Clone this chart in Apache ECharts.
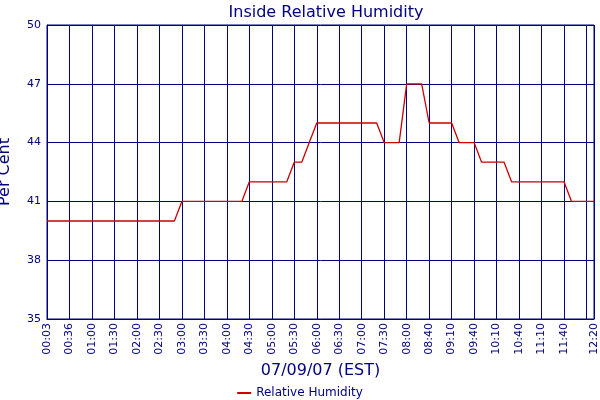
<!DOCTYPE html>
<html><head><meta charset="utf-8">
<script src="https://cdn.jsdelivr.net/npm/echarts@6/dist/echarts.min.js"></script>
<style>html,body{margin:0;padding:0;background:#fff}#c{width:600px;height:400px}</style>
</head><body><div id="c"></div>
<script>
var tickLabels = ['00:03','00:36','01:00','01:30','02:00','02:30','03:00','03:30','04:00','04:30','05:00','05:30','06:00','06:30','07:00','07:30','08:00','08:40','09:10','09:40','10:10','10:40','11:10','11:40','12:10','12:20'];
var humidity = [
40,40,40,40,40,40,40,40,40,40,40,40,40,40,40,40,40,40,
41,41,41,41,41,41,41,41,41,
42,42,42,42,42,42,
43,43,44,
45,45,45,45,45,45,45,45,45,
44,44,44,
47,47,47,
45,45,45,45,
44,44,44,
43,43,43,43,
42,42,42,42,42,42,42,42,
41,41,41,41];
var n = humidity.length;
var cats = [], labelAt = {};
for (var i = 0; i < n; i++) { cats.push('p' + i); }
for (var k = 0; k < tickLabels.length - 1; k++) labelAt[k * 3] = tickLabels[k];
labelAt[n - 1] = tickLabels[tickLabels.length - 1];
function isTick(idx) { return labelAt[idx] !== undefined; }
var navy = '#000080';
var font = 'DejaVu Sans, Verdana, sans-serif';
var chart = echarts.init(document.getElementById('c'));
chart.setOption({
  animation: false,
  title: { text: 'Inside Relative Humidity', left: 321, textAlign: 'center', top: 0,
    textStyle: { color: navy, fontSize: 16, fontWeight: 'normal', fontFamily: font } },
  legend: { top: 382, left: 'center', itemWidth: 14, itemHeight: 2, icon: 'rect',
    textStyle: { color: navy, fontSize: 12, fontFamily: font }, data: ['Relative Humidity'] },
  grid: { left: 47, right: 6, top: 25, bottom: 81, containLabel: false, outerBoundsMode: 'none',
    show: true, borderColor: navy, borderWidth: 1 },
  xAxis: {
    type: 'category', data: cats, boundaryGap: false,
    name: '07/09/07 (EST)', nameLocation: 'middle', nameGap: 42,
    nameTextStyle: { color: navy, fontSize: 16, fontFamily: font },
    axisLine: { lineStyle: { color: navy } },
    axisTick: { show: false },
    axisLabel: { interval: function (i) { return isTick(i); }, rotate: 90, color: navy, fontSize: 11, fontFamily: font,
      hideOverlap: false, showMaxLabel: true, margin: 4,
      formatter: function (v, i) { return labelAt[i] || ''; } },
    splitLine: { show: true, interval: function (i) { return isTick(i); }, lineStyle: { color: navy, width: 1 } }
  },
  yAxis: {
    type: 'value', min: 35, max: 50, interval: 3,
    name: 'Per Cent', nameLocation: 'middle', nameGap: 34,
    nameTextStyle: { color: navy, fontSize: 16, fontFamily: font },
    axisLine: { show: true, lineStyle: { color: navy } },
    axisTick: { show: false },
    axisLabel: { color: navy, fontSize: 11, fontFamily: font, margin: 6 },
    splitLine: { lineStyle: { color: navy, width: 1 } }
  },
  series: [{ name: 'Relative Humidity', type: 'line', data: humidity, symbol: 'none', z: 10,
    lineStyle: { color: '#cc0000', width: 1.3 }, itemStyle: { color: '#cc0000' } }]
});
</script></body></html>
